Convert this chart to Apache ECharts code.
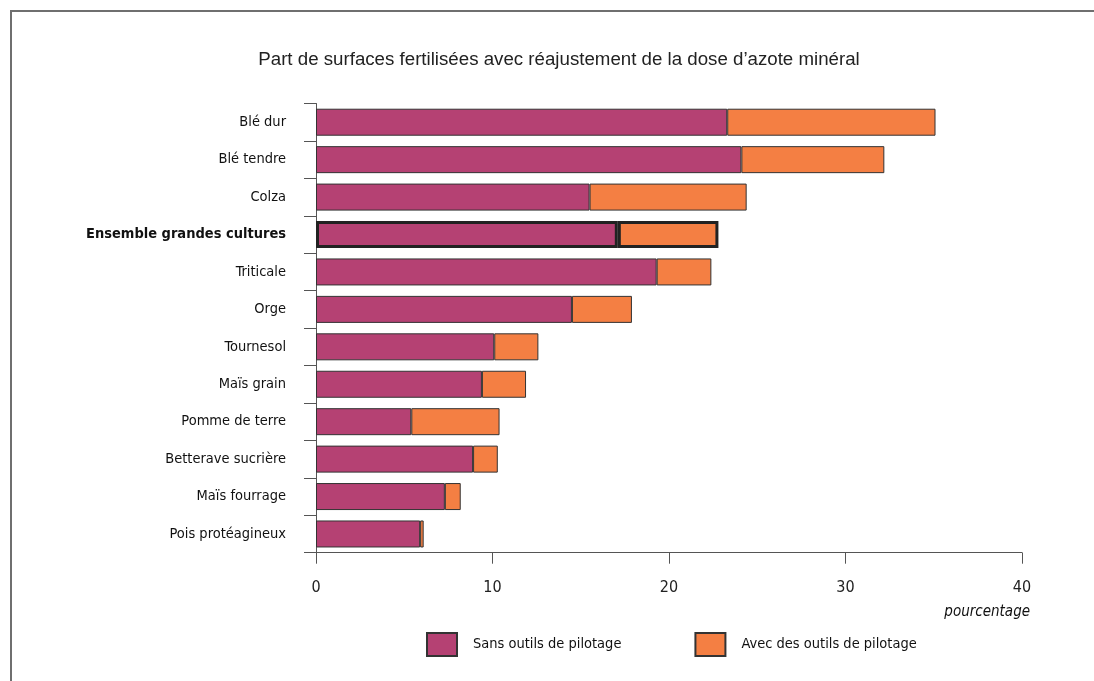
<!DOCTYPE html>
<html>
<head>
<meta charset="utf-8">
<script src="https://cdn.jsdelivr.net/npm/echarts@6/dist/echarts.min.js"></script>
<style>
  html, body { margin: 0; padding: 0; background: #fff; }
  #chart { width: 1094px; height: 681px; }
</style>
</head>
<body>
<div id="chart"></div>
<script>
// catégories (de haut en bas)
const categories = [
  'Blé dur', 'Blé tendre', 'Colza', 'Ensemble grandes cultures', 'Triticale', 'Orge',
  'Tournesol', 'Maïs grain', 'Pomme de terre', 'Betterave sucrière', 'Maïs fourrage', 'Pois protéagineux'
];
// part sans outils de pilotage (%)
const sansOutils = [23.3, 24.1, 15.5, 17.1, 19.3, 14.5, 10.1, 9.4, 5.4, 8.9, 7.3, 5.9];
// part supplémentaire avec des outils de pilotage (%)
const avecOutils = [11.8, 8.1, 8.9, 5.7, 3.1, 3.4, 2.5, 2.5, 5.0, 1.4, 0.9, 0.2];
const xTicks = [0, 10, 20, 30, 40];

const narrow = "'Liberation Sans Narrow', 'DejaVu Sans Condensed', sans-serif";
const highlight = 'Ensemble grandes cultures';

// style particulier pour la ligne "Ensemble"
const withBorder = (arr) => arr.map((v, i) => categories[i] === highlight
  ? {value: v, itemStyle: {borderWidth: 3, borderColor: '#222'}}
  : v);

const chart = echarts.init(document.getElementById('chart'));
chart.setOption({
  animation: false,
  title: {
    text: 'Part de surfaces fertilisées avec réajustement de la dose d’azote minéral',
    left: 554,
    top: 45,
    textAlign: 'center',
    textStyle: {
      fontFamily: "'Liberation Sans', Arial, sans-serif",
      fontWeight: 'normal',
      fontSize: 18.7,
      color: '#222'
    }
  },
  grid: {left: 316, right: 72, top: 103.5, bottom: 128.3},
  xAxis: {
    type: 'value',
    min: xTicks[0],
    max: xTicks[xTicks.length - 1],
    interval: 10,
    splitLine: {show: false},
    axisLine: {show: true, lineStyle: {color: '#555', width: 1}},
    axisTick: {show: true, length: 11, lineStyle: {color: '#555'}},
    axisLabel: {
      margin: 27,
      fontFamily: narrow,
      fontSize: 16,
      color: '#222'
    }
  },
  yAxis: {
    type: 'category',
    inverse: true,
    data: categories,
    axisLine: {show: true, lineStyle: {color: '#555', width: 1}},
    axisTick: {show: true, length: 12, lineStyle: {color: '#555'}},
    axisLabel: {
      margin: 30,
      fontFamily: narrow,
      fontSize: 14.5,
      color: '#111',
      formatter: v => v === highlight ? '{b|' + v + '}' : v,
      rich: {
        b: {fontFamily: narrow, fontSize: 14.5, fontWeight: 'bold', color: '#111'}
      }
    }
  },
  legend: {
    left: 421,
    top: 627,
    itemWidth: 30,
    itemHeight: 23,
    itemGap: 73,
    icon: 'rect',
    textStyle: {
      fontFamily: narrow,
      fontSize: 14.5,
      color: '#111',
      padding: [6, 0, 0, 11]
    },
    data: ['Sans outils de pilotage', 'Avec des outils de pilotage']
  },
  series: [
    {
      name: 'Sans outils de pilotage',
      type: 'bar',
      stack: 'total',
      barWidth: 27,
      data: withBorder(sansOutils),
      itemStyle: {color: '#B54173', borderColor: '#333', borderWidth: 1}
    },
    {
      name: 'Avec des outils de pilotage',
      type: 'bar',
      stack: 'total',
      barWidth: 27,
      data: withBorder(avecOutils),
      itemStyle: {color: '#F47F43', borderColor: '#333', borderWidth: 1}
    }
  ],
  graphic: [
    {
      type: 'polyline',
      shape: {points: [[11, 681], [11, 11], [1094, 11]]},
      style: {stroke: '#6f6f6f', lineWidth: 2, fill: null},
      silent: true
    },
    {
      type: 'text',
      right: 1094 - 1030,
      top: 605,
      style: {
        text: 'pourcentage',
        fontFamily: narrow,
        fontStyle: 'italic',
        fontSize: 15,
        fill: '#111'
      }
    }
  ]
});
</script>
</body>
</html>
